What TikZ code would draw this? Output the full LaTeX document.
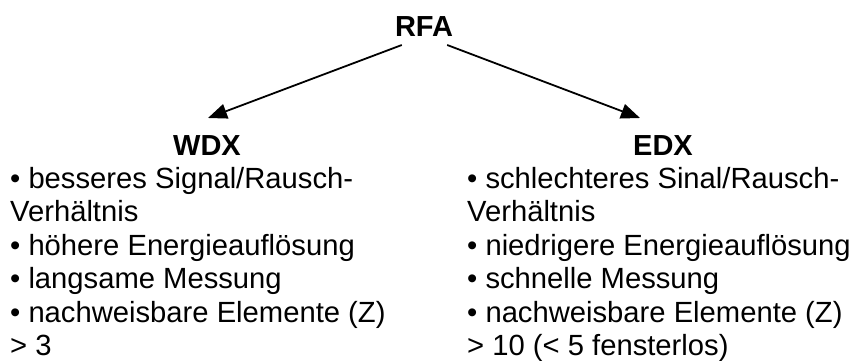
\documentclass[tikz,border=0pt]{standalone}
\usepackage{fontspec}
\setmainfont{Liberation Sans}
\usetikzlibrary{arrows.meta}
\begin{document}
\begin{tikzpicture}[x=1pt,y=-1pt,
  head/.style={anchor=base,inner sep=0pt,font=\fontsize{29}{33}\selectfont\bfseries},
  txt/.style={anchor=base west,inner sep=0pt,font=\fontsize{29.2}{33}\selectfont},
  arr/.style={line width=1.8pt,-{Triangle[length=19pt,width=15pt]}}]
\useasboundingbox (0,0) rectangle (853,360);
% root
\node[head] (rfa) at (424,36) {RFA};
% left branch: WDX
\node[head] (wdx) at (207,155) {WDX};
\node[txt] (w1) at (10,188) {\textbullet{} besseres Signal/Rausch-};
\node[txt] (w2) at (10,221) {Verhältnis};
\node[txt] (w3) at (10,255) {\textbullet{} höhere Energieauflösung};
\node[txt] (w4) at (10,288) {\textbullet{} langsame Messung};
\node[txt] (w5) at (10,322) {\textbullet{} nachweisbare Elemente (Z)};
\node[txt] (w6) at (10,355) {> 3};
% right branch: EDX
\node[head] (edx) at (663,155) {EDX};
\node[txt] (e1) at (467,188) {\textbullet{} schlechteres Sinal/Rausch-};
\node[txt] (e2) at (467,221) {Verhältnis};
\node[txt] (e3) at (467,255) {\textbullet{} niedrigere Energieauflösung};
\node[txt] (e4) at (467,288) {\textbullet{} schnelle Messung};
\node[txt] (e5) at (467,322) {\textbullet{} nachweisbare Elemente (Z)};
\node[txt] (e6) at (467,355) {> 10 (< 5 fensterlos)};
% connectors
\coordinate (wtip) at (208,118);
\coordinate (etip) at (640,118);
\draw[arr] ([xshift=7pt,yshift=-9pt]rfa.base west) -- (wtip);
\draw[arr] ([xshift=-6pt,yshift=-9pt]rfa.base east) -- (etip);
\end{tikzpicture}
\end{document}
